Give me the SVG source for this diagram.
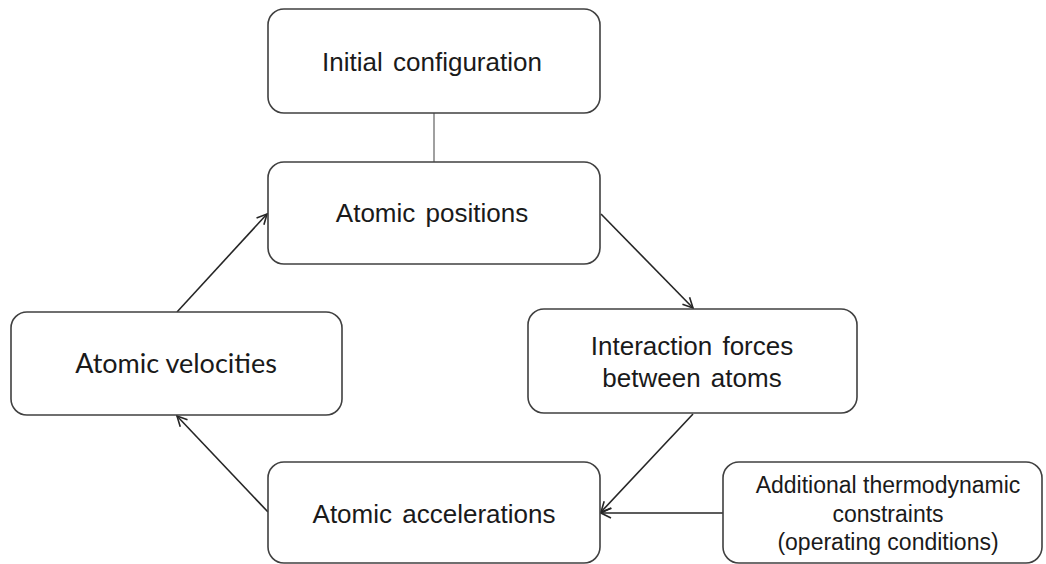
<svg xmlns="http://www.w3.org/2000/svg" width="1046" height="564" viewBox="0 0 1046 564">
<style>
.box{fill:#fff;stroke:#404040;stroke-width:1.6}
.t{font-family:"Liberation Sans",Arial,sans-serif;font-size:26px;fill:#1a1a1a;text-anchor:middle;word-spacing:3px}
.tc{font-family:Lato,"Open Sans",sans-serif;font-size:27px;fill:#1a1a1a;text-anchor:middle}
.ts{font-family:"Liberation Sans",Arial,sans-serif;font-size:23px;fill:#1a1a1a;text-anchor:middle}
.c{stroke:#262626;stroke-width:1.6;fill:none;marker-end:url(#arr)}
</style>
<defs>
<marker id="arr" viewBox="0 0 12 12" refX="11" refY="6" markerWidth="12" markerHeight="12" markerUnits="userSpaceOnUse" orient="auto">
<path d="M1,1 L11,6 L1,11" fill="none" stroke="#262626" stroke-width="1.6"/>
</marker>
</defs>
<rect width="1046" height="564" fill="#fff"/>
<g id="connectors">
<line x1="434" y1="113" x2="434" y2="162" stroke="#a0a0a0" stroke-width="2"/>
<line class="c" x1="601" y1="214" x2="693" y2="308"/>
<line class="c" x1="693" y1="414" x2="601" y2="512"/>
<line class="c" x1="723" y1="513" x2="601" y2="513"/>
<line class="c" x1="268" y1="512" x2="177" y2="416"/>
<line class="c" x1="177" y1="312" x2="267" y2="214"/>
</g>
<g id="initial">
<rect class="box" x="268" y="9" width="332" height="104" rx="16"/>
<text class="t" x="432" y="71">Initial configuration</text>
</g>
<g id="positions">
<rect class="box" x="268" y="162" width="332" height="102" rx="16"/>
<text class="t" x="432" y="222">Atomic positions</text>
</g>
<g id="forces">
<rect class="box" x="528" y="309" width="329" height="104" rx="16"/>
<text class="t" x="692" y="355">Interaction forces</text>
<text class="t" x="692" y="387">between atoms</text>
</g>
<g id="velocities">
<rect class="box" x="11" y="312" width="331" height="103" rx="16"/>
<text class="tc" x="176" y="373">Atomic velocities</text>
</g>
<g id="accelerations">
<rect class="box" x="268" y="462" width="332" height="101" rx="16"/>
<text class="t" x="434" y="523">Atomic accelerations</text>
</g>
<g id="constraints">
<rect class="box" x="723" y="462" width="319" height="101" rx="16"/>
<text class="ts" x="888" y="493">Additional thermodynamic</text>
<text class="ts" x="888" y="522">constraints</text>
<text class="ts" x="888" y="550">(operating conditions)</text>
</g>
</svg>
